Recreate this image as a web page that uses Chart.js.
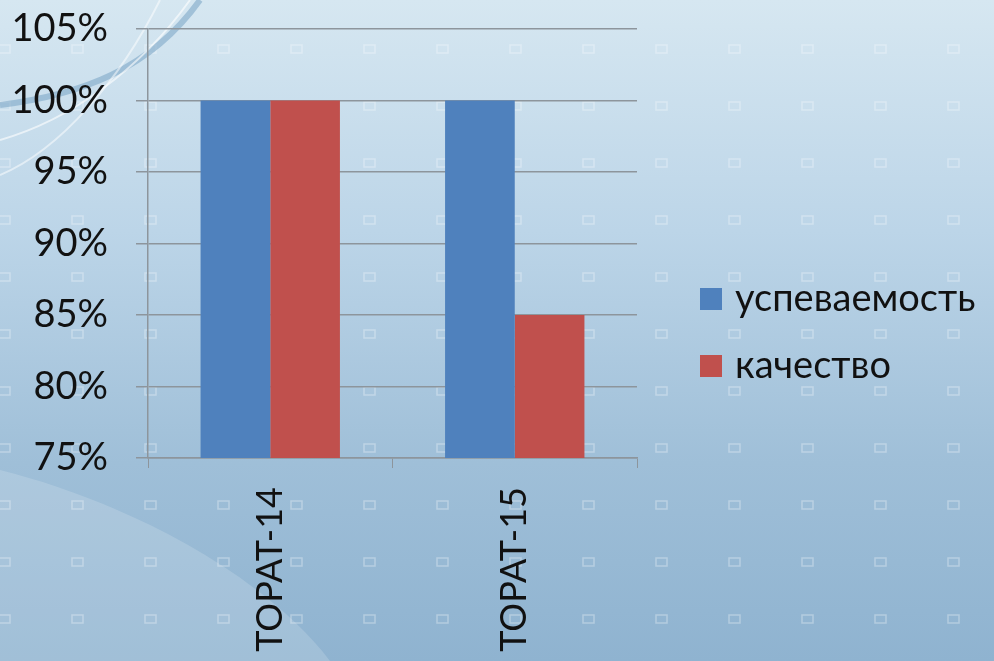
<!DOCTYPE html>
<html>
<head>
<meta charset="utf-8">
<script src="https://cdn.jsdelivr.net/npm/chart.js@4.4.1/dist/chart.umd.min.js"></script>
<style>
  html, body { margin: 0; padding: 0; }
  body {
    width: 994px; height: 661px; overflow: hidden; position: relative;
    background: linear-gradient(180deg, #d6e7f1 0%, #bcd5e8 35%, #9fbfd8 70%, #8fb3d0 100%);
  }
  #bg { position: absolute; left: 0; top: 0; }
  #wrap { position: absolute; left: 0; top: 0; width: 994px; height: 661px; }
</style>
</head>
<body>
<svg id="bg" width="994" height="661" xmlns="http://www.w3.org/2000/svg">
  <defs>
    <pattern id="dots" x="-9" y="22" width="73" height="57" patternUnits="userSpaceOnUse">
      <rect x="8" y="23" width="11" height="8" fill="none" stroke="#ffffff" stroke-opacity="0.3" stroke-width="1.5"/>
    </pattern>
  </defs>
  <path d="M0,470 C120,500 260,570 330,661 L0,661 Z" fill="#ffffff" fill-opacity="0.16"/>
  <rect x="0" y="0" width="994" height="661" fill="url(#dots)"/>
  <path d="M0,105 C80,95 150,70 200,0" fill="none" stroke="#7fa9c8" stroke-opacity="0.6" stroke-width="6"/>
  <path d="M0,140 C70,120 140,70 190,0" fill="none" stroke="#ffffff" stroke-opacity="0.6" stroke-width="2"/>
  <path d="M0,175 C60,150 120,80 160,0" fill="none" stroke="#ffffff" stroke-opacity="0.5" stroke-width="2"/>
</svg>
<div id="wrap"><canvas id="chart" width="994" height="661"></canvas></div>
<script>
const categories = ['TOPAT-14', 'TOPAT-15'];
const seriesNames = ['успеваемость', 'качество'];
const uspevaemost = [1.00, 1.00];
const kachestvo = [1.00, 0.85];
const yTicks = [0.75, 0.80, 0.85, 0.90, 0.95, 1.00, 1.05];

const font = 'Lato, "Open Sans", sans-serif';
const gridColor = '#8d959c';

// legend drawn by hand on the right, Excel style
const sideLegend = {
    id: 'sideLegend',
    afterDraw(chart) {
        const c = chart.ctx;
        const x = chart.chartArea.right + 63;
        const rows = [299, 366];
        c.save();
        c.font = '38px ' + font;
        c.textBaseline = 'middle';
        chart.data.datasets.forEach((ds, i) => {
            c.fillStyle = ds.backgroundColor;
            c.fillRect(x, rows[i] - 11, 22, 22);
            c.fillStyle = '#111';
            c.fillText(ds.label, x + 35, rows[i]);
        });
        c.restore();
    }
};

const ctx = document.getElementById('chart').getContext('2d');
new Chart(ctx, {
    type: 'bar',
    data: {
        labels: categories,
        datasets: [
            { label: seriesNames[0], data: uspevaemost, backgroundColor: '#4f81bd' },
            { label: seriesNames[1], data: kachestvo, backgroundColor: '#c0504d' }
        ]
    },
    options: {
        responsive: false,
        animation: false,
        devicePixelRatio: 1,
        layout: { padding: { left: 0, top: 29, right: 357, bottom: 0 } },
        datasets: { bar: { categoryPercentage: 0.57, barPercentage: 1.0 } },
        plugins: {
            tooltip: { enabled: false },
            legend: { display: false }
        },
        scales: {
            x: {
                afterFit: (scale) => { scale.height = 203; scale.paddingLeft = 0; scale.paddingRight = 0; },
                grid: {
                    display: true,
                    drawOnChartArea: false,
                    drawTicks: true,
                    tickLength: 10,
                    color: gridColor,
                    offset: true
                },
                border: { color: gridColor, width: 1.5 },
                ticks: {
                    color: '#111',
                    font: { family: font, size: 36 },
                    minRotation: 90,
                    maxRotation: 90,
                    padding: 19
                }
            },
            y: {
                min: yTicks[0],
                max: yTicks[yTicks.length - 1],
                afterBuildTicks: (axis) => { axis.ticks = yTicks.map(v => ({ value: v })); },
                afterFit: (scale) => { scale.width = 148; scale.paddingTop = 0; scale.paddingBottom = 0; },
                grid: { color: gridColor, lineWidth: 1.5, tickLength: 12 },
                border: { color: gridColor, width: 1.5 },
                ticks: {
                    color: '#111',
                    font: { family: font, size: 38 },
                    padding: 28,
                    callback: (v) => Math.round(v * 100) + '%'
                }
            }
        }
    },
    plugins: [sideLegend]
});
</script>
</body>
</html>
